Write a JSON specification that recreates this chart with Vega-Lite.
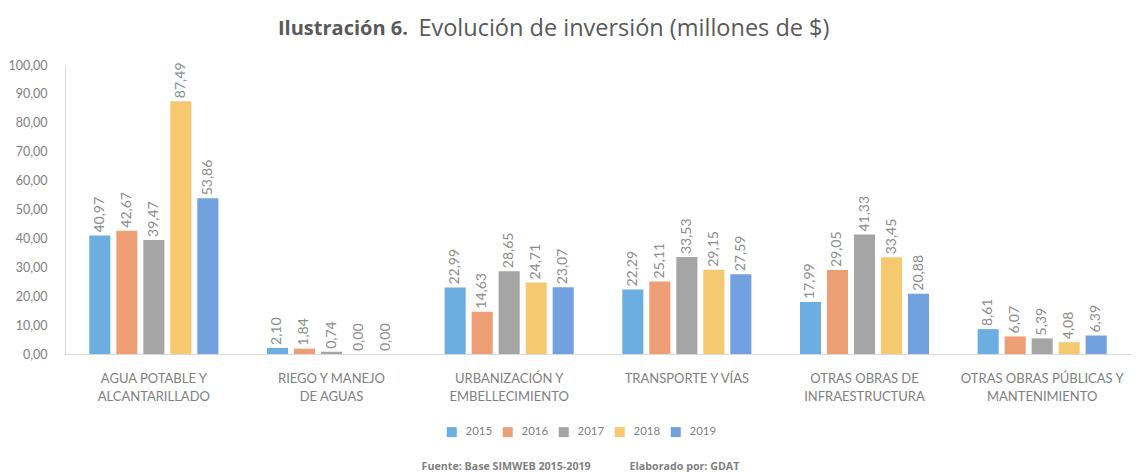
{
  "$schema": "https://vega.github.io/schema/vega-lite/v6.json",
  "width": 1066,
  "height": 289,
  "autosize": "none",
  "padding": {"left": 65, "top": 65, "right": 8, "bottom": 118},
  "background": "white",
  "config": {
    "locale": {"number": {"decimal": ",", "thousands": ".", "grouping": [3], "currency": ["$", ""]}},
    "view": {"stroke": null},
    "font": "Open Sans"
  },
  "title": {
    "text": "Ilustración 6.",
    "subtitle": "\u200b\u00a0\u00a0\u00a0\u00a0\u00a0\u00a0\u00a0\u00a0\u00a0\u00a0\u00a0\u00a0\u00a0\u00a0\u00a0\u00a0\u00a0\u00a0\u00a0\u00a0\u00a0\u00a0\u00a0Evolución de inversión (millones de $)",
    "anchor": "start",
    "frame": "group",
    "dx": 213,
    "offset": 17,
    "font": "Open Sans",
    "fontSize": 20,
    "fontWeight": "bold",
    "color": "#595959",
    "subtitleFont": "Open Sans",
    "subtitleFontSize": 23.5,
    "subtitleFontWeight": "normal",
    "subtitleColor": "#595959",
    "subtitlePadding": -22
  },
  "data": {
    "values": [
      {"cat": "AGUA POTABLE Y|ALCANTARILLADO", "year": "2015", "v": 40.97},
      {"cat": "AGUA POTABLE Y|ALCANTARILLADO", "year": "2016", "v": 42.67},
      {"cat": "AGUA POTABLE Y|ALCANTARILLADO", "year": "2017", "v": 39.47},
      {"cat": "AGUA POTABLE Y|ALCANTARILLADO", "year": "2018", "v": 87.49},
      {"cat": "AGUA POTABLE Y|ALCANTARILLADO", "year": "2019", "v": 53.86},
      {"cat": "RIEGO Y MANEJO|DE AGUAS", "year": "2015", "v": 2.10},
      {"cat": "RIEGO Y MANEJO|DE AGUAS", "year": "2016", "v": 1.84},
      {"cat": "RIEGO Y MANEJO|DE AGUAS", "year": "2017", "v": 0.74},
      {"cat": "RIEGO Y MANEJO|DE AGUAS", "year": "2018", "v": 0.00},
      {"cat": "RIEGO Y MANEJO|DE AGUAS", "year": "2019", "v": 0.00},
      {"cat": "URBANIZACIÓN Y|EMBELLECIMIENTO", "year": "2015", "v": 22.99},
      {"cat": "URBANIZACIÓN Y|EMBELLECIMIENTO", "year": "2016", "v": 14.63},
      {"cat": "URBANIZACIÓN Y|EMBELLECIMIENTO", "year": "2017", "v": 28.65},
      {"cat": "URBANIZACIÓN Y|EMBELLECIMIENTO", "year": "2018", "v": 24.71},
      {"cat": "URBANIZACIÓN Y|EMBELLECIMIENTO", "year": "2019", "v": 23.07},
      {"cat": "TRANSPORTE Y VÍAS", "year": "2015", "v": 22.29},
      {"cat": "TRANSPORTE Y VÍAS", "year": "2016", "v": 25.11},
      {"cat": "TRANSPORTE Y VÍAS", "year": "2017", "v": 33.53},
      {"cat": "TRANSPORTE Y VÍAS", "year": "2018", "v": 29.15},
      {"cat": "TRANSPORTE Y VÍAS", "year": "2019", "v": 27.59},
      {"cat": "OTRAS OBRAS DE|INFRAESTRUCTURA", "year": "2015", "v": 17.99},
      {"cat": "OTRAS OBRAS DE|INFRAESTRUCTURA", "year": "2016", "v": 29.05},
      {"cat": "OTRAS OBRAS DE|INFRAESTRUCTURA", "year": "2017", "v": 41.33},
      {"cat": "OTRAS OBRAS DE|INFRAESTRUCTURA", "year": "2018", "v": 33.45},
      {"cat": "OTRAS OBRAS DE|INFRAESTRUCTURA", "year": "2019", "v": 20.88},
      {"cat": "OTRAS OBRAS PÚBLICAS Y|MANTENIMIENTO", "year": "2015", "v": 8.61},
      {"cat": "OTRAS OBRAS PÚBLICAS Y|MANTENIMIENTO", "year": "2016", "v": 6.07},
      {"cat": "OTRAS OBRAS PÚBLICAS Y|MANTENIMIENTO", "year": "2017", "v": 5.39},
      {"cat": "OTRAS OBRAS PÚBLICAS Y|MANTENIMIENTO", "year": "2018", "v": 4.08},
      {"cat": "OTRAS OBRAS PÚBLICAS Y|MANTENIMIENTO", "year": "2019", "v": 6.39}
    ]
  },
  "encoding": {
    "x": {
      "field": "cat",
      "type": "nominal",
      "sort": null,
      "title": "Fuente: Base SIMWEB 2015-2019\u00a0\u00a0\u00a0\u00a0\u00a0\u00a0\u00a0\u00a0\u00a0\u00a0\u00a0\u00a0\u00a0\u00a0Elaborado por: GDAT",
      "scale": {"paddingInner": 0.24, "paddingOuter": 0.12},
      "axis": {
        "labelExpr": "split(datum.label, '|')",
        "labelAngle": 0,
        "labelFont": "Lato",
        "labelFontSize": 13,
        "labelColor": "#808080",
        "labelPadding": 18,
        "labelLineHeight": 18,
        "ticks": false,
        "domainColor": "#d9d9d9",
        "labelBaseline": "top",
        "titleFont": "Open Sans",
        "titleFontSize": 10.7,
        "titleFontWeight": "bold",
        "titleColor": "#7f7f7f",
        "titleX": 515,
        "titleY": 115,
        "titleAlign": "center",
        "titleBaseline": "alphabetic",
        "titleLimit": 500
      }
    },
    "xOffset": {"field": "year", "type": "nominal", "scale": {"paddingInner": 0.22, "paddingOuter": 0.11}},
    "y": {
      "field": "v",
      "type": "quantitative",
      "title": null,
      "scale": {"domain": [0, 100]},
      "axis": {
        "values": [0, 10, 20, 30, 40, 50, 60, 70, 80, 90, 100],
        "format": ".2f",
        "grid": false,
        "ticks": false,
        "domainColor": "#d9d9d9",
        "labelFont": "Lato",
        "labelFontSize": 12.5,
        "labelColor": "#808080",
        "labelPadding": 18
      }
    }
  },
  "layer": [
    {
      "mark": {"type": "bar"},
      "encoding": {
        "color": {
          "field": "year",
          "type": "nominal",
          "scale": {"domain": ["2015", "2016", "2017", "2018", "2019"], "range": ["#6daee0", "#ee9e75", "#a5a5a5", "#f6c86f", "#72a1e0"]},
          "legend": {
            "title": null,
            "orient": "none",
            "legendX": 381,
            "legendY": 361,
            "direction": "horizontal",
            "symbolType": "square",
            "symbolSize": 100,
            "symbolStrokeWidth": 0,
            "labelFont": "Lato",
            "labelFontSize": 11.5,
            "labelColor": "#7f7f7f",
            "labelOffset": 8,
            "columnPadding": 9
          }
        }
      }
    },
    {
      "mark": {"type": "text", "angle": -90, "align": "left", "baseline": "middle", "dx": 3, "font": "Lato", "fontSize": 14, "color": "#8c8c8c"},
      "encoding": {
        "text": {"field": "v", "type": "quantitative", "format": ".2f"}
      }
    }
  ]
}
